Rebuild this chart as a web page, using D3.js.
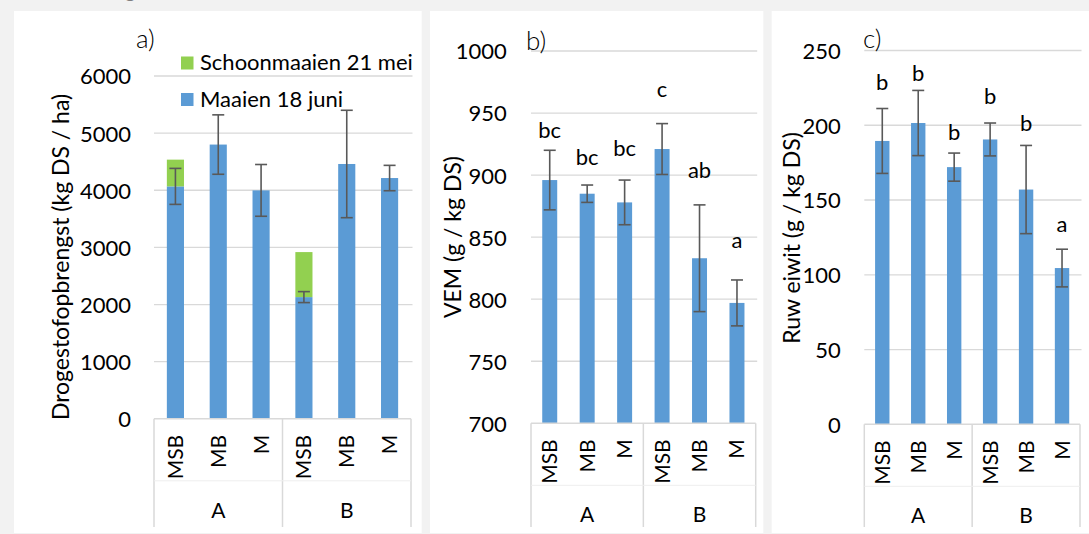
<!DOCTYPE html>
<html><head><meta charset="utf-8">
<script src="https://cdn.jsdelivr.net/npm/d3@7"></script>
<style>
html,body{margin:0;padding:0;background:#f2f2f2;}
svg{display:block;}
text{font-family:Lato,"Open Sans",sans-serif;fill:#000;}
</style></head><body>
<svg id="chart" width="1089" height="534"></svg>
<script>
// ---- data ----
const groups = ["A", "B"];
const treatments = ["MSB", "MB", "M"];
const categories = [["A","MSB"],["A","MB"],["A","M"],["B","MSB"],["B","MB"],["B","M"]];

const yieldJune = [4068, 4800, 3998, 2130, 4460, 4214];
const yieldMay  = [468, 0, 0, 788, 0, 0];
const yieldErr  = [315, 520, 453, 96, 940, 222];
const yieldTicks = [0, 1000, 2000, 3000, 4000, 5000, 6000];
const legendLabels = ["Schoonmaaien 21 mei", "Maaien 18 juni"];

const vem = [896, 885, 878, 921, 833, 797];
const vemErr = [24, 7, 18, 20.5, 43, 18.5];
const vemLetters = ["bc", "bc", "bc", "c", "ab", "a"];
const vemLetterY = [930, 908, 915, 963, 898, 841];
const vemTicks = [700, 750, 800, 850, 900, 950, 1000];

const protein = [189.5, 201.5, 172, 190.5, 157, 104.5];
const proteinErr = [21.7, 21.8, 9.4, 11, 29.5, 12.6];
const proteinLetters = ["b", "b", "b", "b", "b", "a"];
const proteinLetterY = [223.6, 229.6, 190, 214, 196, 128.7];
const proteinTicks = [0, 50, 100, 150, 200, 250];

// ---- styles ----
const BLUE = "#5b9bd5", GREEN = "#92d050", ERR = "#595959", GRID = "#d9d9d9";
const svg = d3.select("#chart");

// cropped title fragment at top (cut off in the original too)
svg.append("text").attr("x", 125).attr("y", -2).attr("font-size", 20)
  .style("fill", "#7f7f7f").text("g");

function drawPanel(cfg) {
  const g = svg.append("g");
  g.append("rect").attr("x", cfg.bg[0]).attr("y", 11)
    .attr("width", cfg.bg[1] - cfg.bg[0]).attr("height", 522).attr("fill", "#fff");

  const keys = categories.map(c => c.join("-"));
  const x = d3.scaleBand().domain(keys).range([cfg.x0, cfg.x1])
    .paddingInner(0.6).paddingOuter(0.3);
  const y = d3.scaleLinear().domain(cfg.domain).range([cfg.yBottom, cfg.yTop]);

  // gridlines
  const ticks = cfg.ticks;
  g.append("g").selectAll("line").data(ticks.slice(1)).join("line")
    .attr("x1", cfg.x0).attr("x2", cfg.x1 + 1.5)
    .attr("y1", d => y(d)).attr("y2", d => y(d))
    .attr("stroke", GRID).attr("stroke-width", 1.3);

  // y axis labels via d3 axis
  const yAxis = d3.axisLeft(y).tickValues(ticks).tickFormat(d3.format("d")).tickSize(0).tickPadding(0);
  const ya = g.append("g").attr("transform", `translate(${cfg.tickRight},0)`).call(yAxis);
  ya.select(".domain").remove();
  ya.selectAll("text").attr("font-size", 22).attr("font-family", "Lato").attr("dy", "0.36em")
    .attr("fill", "#000");

  // bars
  const bw = x.bandwidth();
  g.append("g").selectAll("rect").data(cfg.values).join("rect")
    .attr("x", (d, i) => x(keys[i])).attr("width", bw)
    .attr("y", d => y(d)).attr("height", d => y(cfg.domain[0]) - y(d))
    .attr("fill", BLUE);
  if (cfg.stack) {
    g.append("g").selectAll("rect").data(cfg.stack).join("rect")
      .attr("x", (d, i) => x(keys[i])).attr("width", bw)
      .attr("y", (d, i) => y(cfg.values[i] + d))
      .attr("height", (d, i) => y(cfg.values[i]) - y(cfg.values[i] + d))
      .attr("fill", GREEN);
  }

  // error bars
  const eg = g.append("g").attr("stroke", ERR).attr("stroke-width", 1.6);
  cfg.values.forEach((v, i) => {
    const cx = x(keys[i]) + bw / 2, e = cfg.err[i];
    eg.append("line").attr("x1", cx).attr("x2", cx).attr("y1", y(v + e)).attr("y2", y(v - e));
    eg.append("line").attr("x1", cx - 6).attr("x2", cx + 6).attr("y1", y(v + e)).attr("y2", y(v + e));
    eg.append("line").attr("x1", cx - 6).attr("x2", cx + 6).attr("y1", y(v - e)).attr("y2", y(v - e));
  });

  // significance letters
  if (cfg.letters) {
    g.append("g").selectAll("text").data(cfg.letters).join("text")
      .attr("x", (d, i) => x(keys[i]) + bw / 2).attr("y", (d, i) => y(cfg.letterY[i]))
      .attr("text-anchor", "middle").attr("font-size", 22).text(d => d);
  }

  // category axis
  const base = cfg.yBottom;
  const ax = g.append("g").attr("stroke", GRID).attr("stroke-width", 1.5);
  ax.append("line").attr("x1", cfg.x0).attr("x2", cfg.x1).attr("y1", base).attr("y2", base);
  const sepXs = [cfg.x0, (cfg.x0 + cfg.x1) / 2, cfg.x1];
  sepXs.forEach(sx => ax.append("line").attr("x1", sx).attr("x2", sx).attr("y1", base).attr("y2", 527));
  g.append("line").attr("x1", cfg.x0).attr("x2", cfg.x1).attr("y1", base + 62).attr("y2", base + 62)
    .attr("stroke", "#eeeeee").attr("stroke-width", 1);

  g.append("g").selectAll("text").data(categories).join("text")
    .attr("transform", (d, i) => `translate(${x(keys[i]) + bw / 2 + 7.5},${base + 16}) rotate(-90)`)
    .attr("text-anchor", "end").attr("font-size", 21).text(d => d[1]);
  g.append("g").selectAll("text").data(groups).join("text")
    .attr("x", (d, i) => sepXs[i] + (sepXs[i + 1] - sepXs[i]) / 2)
    .attr("y", base + 99).attr("text-anchor", "middle").attr("font-size", 21).text(d => d);

  // y title
  g.append("text").attr("transform", `translate(${cfg.titleX},${cfg.titleY}) rotate(-90)`)
    .attr("text-anchor", "middle").attr("font-size", cfg.titleSize || 23).text(cfg.title);

  // panel label
  g.append("text").attr("x", cfg.labelX).attr("y", cfg.labelY)
    .attr("font-size", 26).attr("font-family", "'DejaVu Sans'").style("font-weight", 300).text(cfg.label);
  return g;
}

drawPanel({
  bg: [14, 421.7], x0: 154, x1: 411, domain: [0, 6000], yBottom: 418.8, yTop: 76,
  ticks: yieldTicks, tickRight: 131, values: yieldJune, stack: yieldMay, err: yieldErr,
  title: "Drogestofopbrengst (kg DS / ha)", titleX: 69, titleY: 257,
  label: "a)", labelX: 136, labelY: 48
});
drawPanel({
  bg: [430, 763.3], x0: 531, x1: 755.7, domain: [700, 1000], yBottom: 423.3, yTop: 51,
  ticks: vemTicks, tickRight: 506.7, values: vem, err: vemErr,
  letters: vemLetters, letterY: vemLetterY,
  title: "VEM (g / kg DS)", titleX: 461, titleY: 237,
  label: "b)", labelX: 526, labelY: 50
});
drawPanel({
  bg: [771.7, 1089], x0: 864.3, x1: 1080, domain: [0, 250], yBottom: 424.3, yTop: 50.5,
  ticks: proteinTicks, tickRight: 840.7, values: protein, err: proteinErr,
  letters: proteinLetters, letterY: proteinLetterY,
  title: "Ruw eiwit (g / kg DS)", titleX: 800, titleY: 238,
  label: "c)", labelX: 863, labelY: 48
});

// legend for panel a
const legendColors = [GREEN, BLUE];
const lg = svg.append("g");
lg.selectAll("rect").data(legendLabels).join("rect")
  .attr("x", 181).attr("y", (d, i) => 56.5 + i * 36.5).attr("width", 12.5).attr("height", 13)
  .attr("fill", (d, i) => legendColors[i]);
lg.selectAll("text").data(legendLabels).join("text")
  .attr("x", 200).attr("y", (d, i) => 70 + i * 36.5).attr("font-size", 22).text(d => d);
</script>
</body></html>
